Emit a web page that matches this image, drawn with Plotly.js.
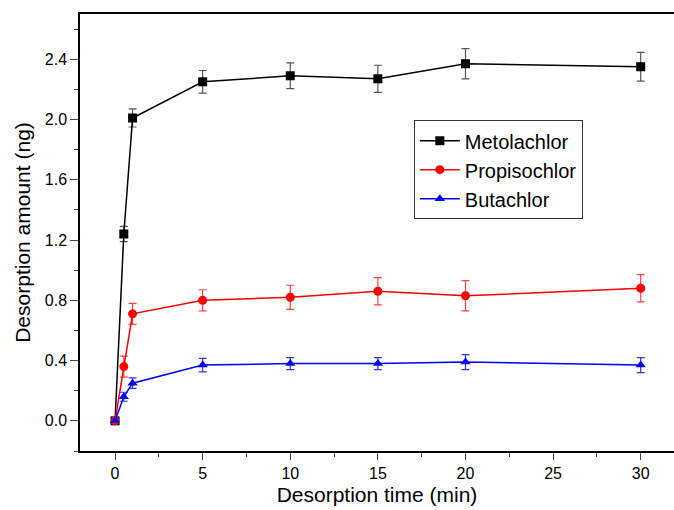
<!DOCTYPE html>
<html><head><meta charset="utf-8">
<script src="https://cdn.plot.ly/plotly-3.0.1.min.js"></script>
<style>html,body{margin:0;padding:0;background:#fff}#c{width:674px;height:510px}</style>
</head><body><div id="c"></div>
<script>
const time = [0, 0.5, 1, 5, 10, 15, 20, 30];
const metolachlor = [0, 1.24, 2.01, 2.25, 2.29, 2.27, 2.37, 2.35];
const metolachlorErr = [0, 0.05, 0.06, 0.075, 0.085, 0.09, 0.1, 0.095];
const propisochlor = [0, 0.36, 0.71, 0.80, 0.82, 0.86, 0.83, 0.88];
const propisochlorErr = [0, 0.07, 0.07, 0.07, 0.08, 0.09, 0.1, 0.09];
const butachlor = [0, 0.16, 0.25, 0.37, 0.38, 0.38, 0.39, 0.37];
const butachlorErr = [0, 0.03, 0.035, 0.045, 0.04, 0.04, 0.05, 0.05];
const names = ['Metolachlor', 'Propisochlor', 'Butachlor'];

function tr(name, y, err, color, errColor, symbol) {
  return {x: time, y: y, name: name, type: 'scatter', mode: 'lines+markers',
    line: {color: color, width: 1.5},
    marker: {color: color, symbol: symbol, size: 9},
    error_y: {type: 'data', array: err, visible: true, color: errColor, thickness: 1.2, width: 4}};
}
const data = [
  tr(names[0], metolachlor, metolachlorErr, '#000000', '#555555', 'square'),
  tr(names[1], propisochlor, propisochlorErr, '#ff0000', '#ff4444', 'circle'),
  tr(names[2], butachlor, butachlorErr, '#0000ff', '#3333ff', 'triangle-up')
];
const layout = {
  width: 674, height: 510,
  margin: {l: 80, r: 0, t: 14, b: 59},
  paper_bgcolor: '#fff', plot_bgcolor: '#fff',
  font: {family: 'Liberation Sans, Arial, sans-serif', color: '#000'},
  showlegend: true,
  legend: {x: 0.562, y: 0.757, xanchor: 'left', yanchor: 'top',
    bordercolor: '#333', borderwidth: 1, bgcolor: '#fff',
    font: {size: 20}, tracegroupgap: 0, itemwidth: 40},
  xaxis: {range: [-2, 31.9], tickvals: [0,5,10,15,20,25,30], ticks: 'outside', ticklen: 7,
    minor: {dtick: 2.5, tick0: 0, ticks: 'outside', ticklen: 4},
    showgrid: false, zeroline: false, showline: true, linewidth: 1.5, linecolor: '#000', mirror: true,
    tickfont: {size: 16},
    title: {text: 'Desorption time (min)', font: {size: 21}, standoff: 6}},
  yaxis: {range: [-0.2, 2.7], tickvals: [0, 0.4, 0.8, 1.2, 1.6, 2.0, 2.4], tickformat: '.1f',
    ticks: 'outside', ticklen: 8,
    minor: {dtick: 0.2, tick0: 0, ticks: 'outside', ticklen: 4},
    showgrid: false, zeroline: false, showline: true, linewidth: 1.5, linecolor: '#000',
    tickfont: {size: 16},
    title: {text: 'Desorption amount (ng)', font: {size: 21}, standoff: 8}}
};
Plotly.newPlot('c', data, layout, {displayModeBar: false});
</script></body></html>
